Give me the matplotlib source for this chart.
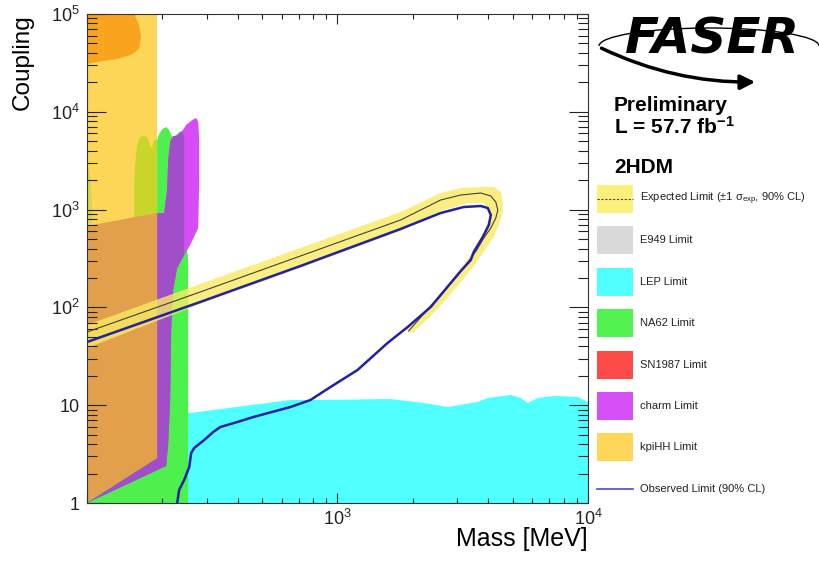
import numpy as np
import matplotlib.pyplot as plt
from matplotlib.patches import Rectangle, Arc, FancyArrowPatch
from matplotlib.lines import Line2D
from matplotlib.ticker import FixedLocator, NullFormatter

plt.rcParams['font.family'] = ['Liberation Sans', 'DejaVu Sans']
plt.rcParams['mathtext.fontset'] = 'custom'
plt.rcParams['mathtext.rm'] = 'Liberation Sans'
plt.rcParams['mathtext.it'] = 'Liberation Sans:italic'
plt.rcParams['mathtext.bf'] = 'Liberation Sans:bold'

# ---- regions (mass in MeV, coupling) ----
kpihh_m = [100, 190.5, 190.5, 100]
kpihh_c = [1, 1, 1e5, 1e5]

# SN1987 over kpiHH, top-left blob
sn_top_m = [100, 154.2, 161.4, 164.4, 161.4, 150, 131.8, 109.6, 100]
sn_top_c = [1e5, 1e5, 77200, 58200, 43900, 38100, 34700, 32300, 30800]

# SN1987 over kpiHH, lower block
sn_low_m = [100, 190.5, 190.5, 100]
sn_low_c = [679.8, 923.1, 2.88, 1.02]

# NA62 seen through kpiHH
na62_lime_m = [154.2, 154.2, 155.6, 158.5, 163, 167.5, 173.8, 178.6, 182, 185.4, 190.5, 190.5]
na62_lime_c = [119, 1590, 2858, 4577, 5525, 5655, 5525, 4470, 4170, 5150, 5148, 119]
na62_edge_m = [100, 100, 102.8, 104.7, 104.7]
na62_edge_c = [730, 2858, 2258, 1254, 730]

# NA62 main
na62_m = [100, 253.5, 253.5, 248.9, 244.3, 244.3, 235.5, 227, 218.8, 212.8, 207, 200, 194,
          190.5, 190.5, 190.5, 100]
na62_c = [1, 1, 305, 489, 619, 5792, 6363, 5792, 5525, 6515, 6993, 6670, 5930,
          5148, 923.1, 119, 119]

# LEP
lep_m = [229.1, 258.2, 448.7, 648.6, 879, 1629, 2208, 2754, 3631, 3981, 4920, 5395, 5754,
         6310, 7311, 9120, 10000, 10000, 229.1]
lep_c = [8.32, 8.32, 10, 11.3, 11.3, 11.57, 10.53, 9.58, 10.78, 11.85, 12.72, 11.85, 10.53,
         11.85, 12.42, 12.13, 10.78, 1, 1]

# CHARM (full) and its overlap with NA62
charm_m = [100, 207, 210.9, 214.8, 216.8, 220.8, 229.1, 244.3, 258.2, 278, 280.5, 280.5, 278,
           272.9, 263, 248.9, 239.9, 233.3, 227, 220.8, 214.8, 210.9, 208.9, 203.2, 190.5,
           190.5]
charm_c = [1, 2.39, 3.92, 11.3, 58.7, 150.6, 252.8, 343.4, 434.5, 648.5, 2008, 5148, 7865,
           8645, 8245, 7330, 6363, 5930, 5655, 5655, 4910, 3214, 1590, 923.1, 923.1, 2.88]
charm_na62_m = [100, 207, 210.9, 214.8, 216.8, 220.8, 229.1, 244.3, 244.3, 239.9, 233.3, 227,
                220.8, 214.8, 210.9, 208.9, 203.2, 190.5, 190.5]
charm_na62_c = [1, 2.39, 3.92, 11.3, 58.7, 150.6, 252.8, 343.4, 5395, 6363, 5930, 5655,
                5655, 4910, 3214, 1590, 923.1, 923.1, 2.88]

# expected +-1 sigma band (outer edge then inner edge)
band_m = [100, 283.1, 711.2, 1786, 2582, 3105, 3733, 4207, 4487, 4571, 4571, 4406, 4207,
          3873, 3532, 3105, 2704, 2312, 1995,
          1871, 2148, 2512, 2884, 3251, 3565, 3837, 4018, 4018, 3837, 3311, 2582, 1786,
          711.2, 283.1, 100]
band_c = [66.1, 173.5, 404.9, 945, 1478, 1663, 1702, 1702, 1514, 1196, 945, 695.9, 524.6,
          386.3, 271.3, 181.8, 119.1, 77.9, 54.7,
          58.7, 83.6, 127.7, 195.2, 291.1, 424.4, 590.2, 782.9, 990.6, 1168, 1168, 967,
          604, 252.8, 108.3, 38.4]

exp_m = [100, 283.1, 711.2, 1786, 2582, 3105, 3733, 4093, 4285, 4365, 4285, 4093, 3837,
         3597, 3281, 2911, 2535, 2188, 1923]
exp_c = [56.0, 143.7, 335.4, 782.9, 1254, 1410, 1478, 1377, 1196, 990.6, 820.8, 648.5,
         512.4, 386.3, 277.8, 190.6, 127.7, 83.6, 57.4]

obs_m = [100, 283.1, 711.2, 1786, 2582, 3192, 3733, 3981, 4093, 4018, 3802, 3499, 3404,
         3105, 2831, 2355, 1905, 1585, 1202, 937.6, 779.8, 648.6, 461.3, 398.1, 340.4,
         319.1, 293.8, 267.9, 260.6, 255.9, 244.3, 233.3, 229.1]
obs_c = [44.3, 113.6, 265, 633.5, 923.1, 1063, 1088, 1038, 880.7, 695.9, 524.6, 368.6,
         305.2, 235.6, 177.7, 100.9, 63.0, 43.3, 22.9, 15.35, 11.3, 9.58, 7.57, 6.73, 5.98,
         5.32, 4.41, 3.65, 3.25, 2.33, 1.72, 1.36, 1.0]

legend_labels = ['Expected Limit (\u00b11 \u03c3$_{\\rm exp}$, 90% CL)', 'E949 Limit',
                 'LEP Limit', 'NA62 Limit', 'SN1987 Limit', 'charm Limit', 'kpiHH Limit']
legend_colors = ['#fcf07c', '#d9d9d9', '#50ffff', '#52f252', '#ff4a4a', '#d650f8', '#ffd65a']

W, H = 820, 564
fx = lambda p: p / W
fy = lambda p: 1 - p / H

fig = plt.figure(figsize=(8.2, 5.64), dpi=100)
ax = fig.add_axes([fx(87), 61 / H, 501 / W, 489 / H])
ax.set_xscale('log')
ax.set_yscale('log')
ax.set_xlim(100, 1e4)
ax.set_ylim(1, 1e5)

ax.fill(kpihh_m, kpihh_c, color='#fdd658', lw=0)
ax.fill(sn_top_m, sn_top_c, color='#f9a41f', lw=0)
ax.fill(na62_lime_m, na62_lime_c, color='#c9d52a', lw=0)
ax.fill(na62_edge_m, na62_edge_c, color='#d8d642', lw=0)
ax.fill(lep_m, lep_c, color='#50ffff', lw=0)
ax.fill(na62_m, na62_c, color='#4ef04e', lw=0)
ax.fill(charm_m, charm_c, color='#d64cf5', lw=0)
ax.fill(charm_na62_m, charm_na62_c, color='#a04fc8', lw=0)
ax.fill(sn_low_m, sn_low_c, color='#e2a04c', lw=0)

ax.fill(band_m, band_c, color='#f9ea63', alpha=0.8, lw=0)
ax.plot(exp_m, exp_c, color='#404040', lw=0.8)
ax.plot(obs_m, obs_c, color='#2020a8', lw=1.8)

# axes / ticks in ROOT style
ax.xaxis.set_major_locator(FixedLocator([100, 1e3, 1e4]))
ax.set_xticklabels(['', '$10^{3}$', '$10^{4}$'])
ax.xaxis.set_minor_locator(FixedLocator([k * 10 ** e for e in (2, 3) for k in range(2, 10)]))
ax.xaxis.set_minor_formatter(NullFormatter())
ax.yaxis.set_major_locator(FixedLocator([1, 10, 100, 1e3, 1e4, 1e5]))
ax.set_yticklabels(['1', '10', '$10^{2}$', '$10^{3}$', '$10^{4}$', '$10^{5}$'])
ax.yaxis.set_minor_locator(FixedLocator([k * 10 ** e for e in range(0, 5) for k in range(2, 10)]))
ax.yaxis.set_minor_formatter(NullFormatter())
ax.tick_params(which='both', direction='in', top=True, right=True, labelsize=13,
               width=0.8, colors='#222222')
ax.tick_params(axis='y', which='major', length=14, pad=5)
ax.tick_params(axis='y', which='minor', length=7)
ax.tick_params(axis='x', which='major', length=7, pad=4)
ax.tick_params(axis='x', which='minor', length=3.5)
for s in ax.spines.values():
    s.set_linewidth(0.8)
    s.set_color('#333333')

fig.text(fx(23), fy(14), 'Coupling', rotation=90, ha='center', va='top', fontsize=17.5)
fig.text(fx(588), fy(539), 'Mass [MeV]', ha='right', va='center', fontsize=18)

# FASER logo
fig.text(fx(712), fy(39), 'FASER', fontsize=36, fontweight='heavy', style='italic',
         family='DejaVu Sans', ha='center', va='center')
fig.add_artist(Arc((fx(709), fy(46)), 220 / W, 36 / H, theta1=0, theta2=180,
                   transform=fig.transFigure, lw=1, color='black'))
fig.add_artist(FancyArrowPatch((fx(599), fy(47)), (fx(758), fy(82)),
                               connectionstyle='arc3,rad=0.12', arrowstyle='-|>',
                               mutation_scale=22, lw=2.5, color='black',
                               transform=fig.transFigure))

fig.text(fx(614), fy(111), 'Preliminary', fontsize=15, fontweight='bold', va='baseline')
fig.text(fx(614), fy(134), 'L = 57.7 fb$^{\\mathbf{-1}}$', fontsize=15, fontweight='bold',
         va='baseline')
fig.text(fx(614), fy(173), '2HDM', fontsize=15, fontweight='bold', va='baseline')

# legend
y0, step = 199, 41.4
for i, (lab, col) in enumerate(zip(legend_labels, legend_colors)):
    yc = y0 + i * step
    fig.add_artist(Rectangle((fx(597), fy(yc + 14)), 36 / W, 28 / H, transform=fig.transFigure,
                             fc=col, ec='none'))
    fig.text(fx(640), fy(yc), lab, fontsize=8, va='center', color='#222222')
fig.add_artist(Line2D([fx(597), fx(633)], [fy(y0), fy(y0)], transform=fig.transFigure,
                      color='#444444', lw=0.8, dashes=(2, 1.5)))
yo = y0 + 7 * step
fig.add_artist(Line2D([fx(597), fx(633)], [fy(yo), fy(yo)], transform=fig.transFigure,
                      color='#4a4ac8', lw=1.2))
fig.text(fx(640), fy(yo), 'Observed Limit (90% CL)', fontsize=8, va='center', color='#222222')

fig.savefig('out.png', dpi=100)
